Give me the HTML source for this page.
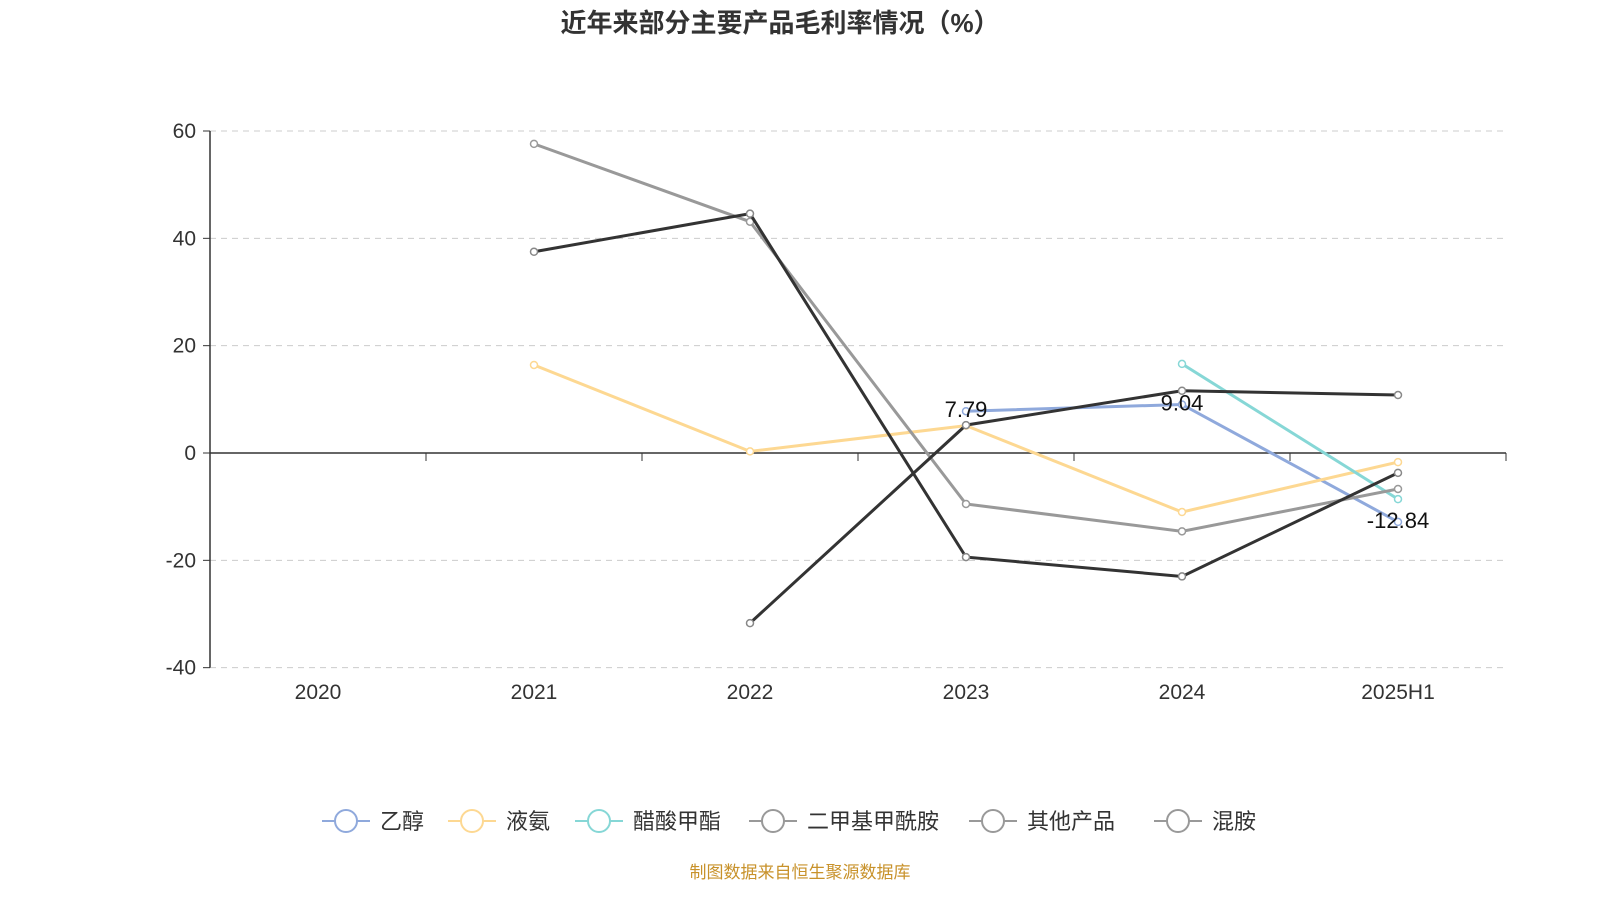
<!DOCTYPE html>
<html><head><meta charset="utf-8"><style>
body{margin:0;background:#fff;width:1600px;height:900px;overflow:hidden;font-family:"Liberation Sans","Noto Sans CJK SC",sans-serif}
</style></head><body>
<svg id="c" width="1600" height="900" font-family="Liberation Sans, Noto Sans CJK SC, sans-serif">
<text x="780" y="32" text-anchor="middle" font-size="26" font-weight="bold" fill="#333">近年来部分主要产品毛利率情况（%）</text>
<g id="grid"></g><g id="axes"></g><g id="series"></g><g id="legend"></g>
<text x="800" y="878" text-anchor="middle" font-size="17" fill="#c8922b">制图数据来自恒生聚源数据库</text>
</svg>
<script>
const categories=["2020","2021","2022","2023","2024","2025H1"];
const yTicks=[60,40,20,0,-20,-40];
const seriesNames=["乙醇","液氨","醋酸甲酯","二甲基甲酰胺","其他产品","混胺"];
const seriesColors=["#8fa9dc","#fdd892","#86d7d6","#999999","#333333","#333333"];
const legendColors=["#8fa9dc","#fdd892","#86d7d6","#999999","#999999","#999999"];
const ethanol=[null,null,null,7.79,9.04,-12.84];
const ammonia=[null,16.4,0.3,5.1,-11,-1.7];
const methylAcetate=[null,null,null,null,16.6,-8.6];
const dmf=[null,57.6,43.1,-9.5,-14.6,-6.7];
const others=[null,37.5,44.6,-19.4,-23,-3.7];
const mixedAmine=[null,null,-31.7,5.2,11.6,10.8];
const labeled=[true,false,false,false,false,false];
const allSeries=[ethanol,ammonia,methylAcetate,dmf,others,mixedAmine];
const NS="http://www.w3.org/2000/svg";
const x0=210,x1=1506,band=(x1-x0)/categories.length;
const xs=i=>x0+band*(i+0.5);
const ys=v=>453-v*(453-131)/60;
function mk(tag,attrs,parent){const e=document.createElementNS(NS,tag);for(const k in attrs)e.setAttribute(k,attrs[k]);parent.appendChild(e);return e;}
const grid=document.getElementById('grid'),axes=document.getElementById('axes'),ser=document.getElementById('series'),leg=document.getElementById('legend');
yTicks.forEach(t=>{
 if(t!==0){const l=mk('line',{x1:x0,x2:x1,y1:ys(t),y2:ys(t),stroke:'#ccc','stroke-dasharray':'6,5'},grid);
 
 }
 const tk=mk('line',{x1:x0-7,x2:x0,y1:ys(t),y2:ys(t),stroke:'#333'},axes);
 
 
 const tx=mk('text',{x:x0-14,y:ys(t)+7,'text-anchor':'end','font-size':21,fill:'#333'},axes);tx.textContent=t;
 
 
});
const ya=mk('line',{x1:x0,x2:x0,y1:ys(60),y2:ys(-40),stroke:'#333','stroke-width':1.5},axes);


const xa=mk('line',{x1:x0,x2:x1,y1:ys(0),y2:ys(0),stroke:'#333','stroke-width':1.5},axes);


for(let i=0;i<=categories.length;i++){const t=mk('line',{x1:x0+band*i,x2:x0+band*i,y1:ys(0),y2:ys(0)+8,stroke:'#333'},axes);
 
 }
categories.forEach((c,i)=>{const t=mk('text',{x:xs(i),y:699,'text-anchor':'middle','font-size':21,fill:'#333'},axes);t.textContent=c;
 
 });
allSeries.forEach((d,s)=>{
 const g=mk('g',{},ser);
 
 
 let pts=[];d.forEach((v,i)=>{if(v!==null)pts.push([xs(i),ys(v),v]);});
 const p=mk('polyline',{points:pts.map(q=>q[0]+','+q[1]).join(' '),fill:'none',stroke:seriesColors[s],'stroke-width':3},g);
 
 
 pts.forEach(q=>{const c=mk('circle',{cx:q[0],cy:q[1],r:3.5,fill:'#fff',stroke:seriesColors[s]==='#333333'?'#888':seriesColors[s],'stroke-width':1.5},g);
  
  
  if(labeled[s]){const t=mk('text',{x:q[0],y:q[1]+6,'text-anchor':'middle','font-size':22,fill:'#111'},g);t.textContent=q[2];
   
   }
 });
});
const lx=[322,448,575,749,969,1154];
seriesNames.forEach((n,i)=>{
 const g=mk('g',{},leg);
 
 
 mk('line',{x1:lx[i],x2:lx[i]+48,y1:821,y2:821,stroke:legendColors[i],'stroke-width':2},g);
 mk('circle',{cx:lx[i]+24,cy:821,r:11,fill:'#fff',stroke:legendColors[i],'stroke-width':2},g);
 const t=mk('text',{x:lx[i]+58,y:829,'font-size':22,fill:'#333'},g);t.textContent=n;
});
</script>
</body></html>
